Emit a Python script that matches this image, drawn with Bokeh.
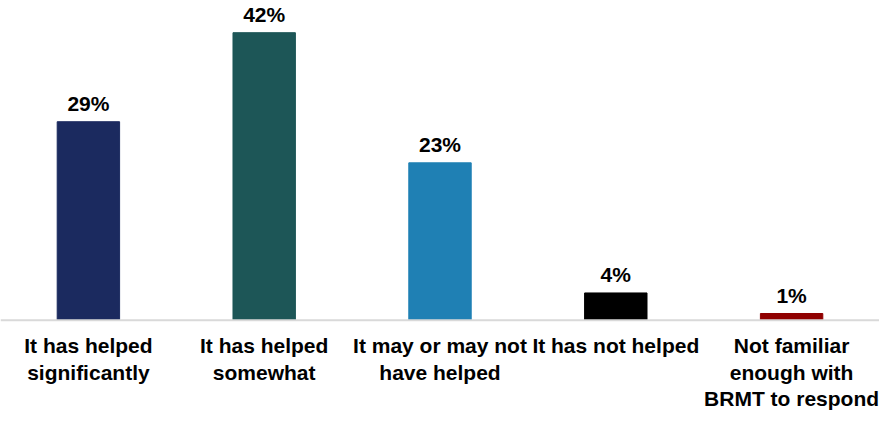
from bokeh.plotting import figure
from bokeh.models import ColumnDataSource, Range1d, FactorRange, Span
from bokeh.core.properties import value
from bokeh.embed import file_html
from bokeh.resources import INLINE

categories = ["It has helped\nsignificantly", "It has helped\nsomewhat",
              "It may or may not\nhave helped", "It has not helped",
              "Not familiar\nenough with\nBRMT to respond"]
values = [29, 42, 23, 4, 1]
labels = ["29%", "42%", "23%", "4%", "1%"]
colors = ["#1b2a5f", "#1d5657", "#1f80b4", "#000000", "#900000"]

src = ColumnDataSource(dict(cat=categories, val=values, lab=labels, col=colors,
                            zero=[0] * len(values)))

p = figure(x_range=FactorRange(factors=categories, start=0.03, end=4.99),
           y_range=Range1d(-13.6, 46.7), width=879, height=413,
           output_backend="svg", toolbar_location=None,
           min_border_left=0, min_border_right=0, min_border_top=0, min_border_bottom=0)
p.xaxis.visible = False
p.yaxis.visible = False
p.xgrid.visible = False
p.ygrid.visible = False
p.outline_line_color = None

p.add_layout(Span(location=0, dimension="width", line_color="#d9d9d9", line_width=2))
p.vbar(x="cat", top="val", bottom=0, width=0.355, color="col", source=src)

# value labels
p.text(x="cat", y="val", text="lab", source=src, text_align="center", text_baseline="bottom",
       y_offset=-7, text_font=value("Liberation Sans"), text_font_style="bold",
       text_font_size="21px", text_color="#000000")

# category labels
p.text(x="cat", y="zero", text="cat", source=src, text_align="center", text_baseline="top",
       y_offset=14, text_font=value("Liberation Sans"), text_font_style="bold",
       text_font_size="21px", text_color="#000000", text_line_height=1.15)

open("out.html", "w").write(file_html(p, INLINE))
